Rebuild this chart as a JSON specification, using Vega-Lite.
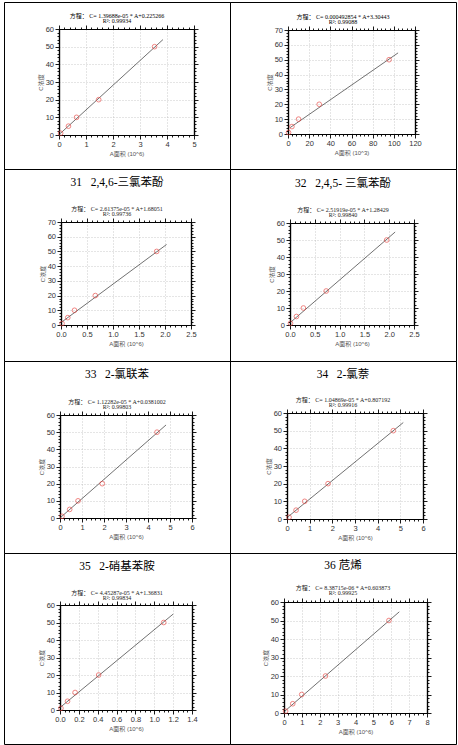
{
  "$schema": "https://vega.github.io/schema/vega-lite/v6.json",
  "background": "white",
  "padding": {"left": 3, "top": 1, "right": 3, "bottom": 2},
  "datasets": {
    "pts": [
      {"p": "A", "A": 0.06, "C": 1}, {"p": "A", "A": 0.35, "C": 5}, {"p": "A", "A": 0.65, "C": 10}, {"p": "A", "A": 1.47, "C": 20}, {"p": "A", "A": 3.54, "C": 50},
      {"p": "B", "A": 0.5, "C": 1}, {"p": "B", "A": 3.7, "C": 5}, {"p": "B", "A": 10, "C": 10}, {"p": "B", "A": 29.5, "C": 20}, {"p": "B", "A": 95.5, "C": 50},
      {"p": "C", "A": 0.02, "C": 1}, {"p": "C", "A": 0.13, "C": 5}, {"p": "C", "A": 0.26, "C": 10}, {"p": "C", "A": 0.66, "C": 20}, {"p": "C", "A": 1.84, "C": 50},
      {"p": "D", "A": 0.01, "C": 1}, {"p": "D", "A": 0.13, "C": 5}, {"p": "D", "A": 0.27, "C": 10}, {"p": "D", "A": 0.73, "C": 20}, {"p": "D", "A": 1.95, "C": 50},
      {"p": "E", "A": 0.09, "C": 1}, {"p": "E", "A": 0.44, "C": 5}, {"p": "E", "A": 0.82, "C": 10}, {"p": "E", "A": 1.92, "C": 20}, {"p": "E", "A": 4.41, "C": 50},
      {"p": "F", "A": 0.09, "C": 1}, {"p": "F", "A": 0.4, "C": 5}, {"p": "F", "A": 0.78, "C": 10}, {"p": "F", "A": 1.81, "C": 20}, {"p": "F", "A": 4.69, "C": 50},
      {"p": "G", "A": 0.01, "C": 1}, {"p": "G", "A": 0.08, "C": 5}, {"p": "G", "A": 0.16, "C": 10}, {"p": "G", "A": 0.41, "C": 20}, {"p": "G", "A": 1.1, "C": 50},
      {"p": "H", "A": 0.09, "C": 1}, {"p": "H", "A": 0.49, "C": 5}, {"p": "H", "A": 0.99, "C": 10}, {"p": "H", "A": 2.32, "C": 20}, {"p": "H", "A": 5.87, "C": 50}
    ],
    "fit": [
      {"p": "A", "A": 0.05, "C": 0.9}, {"p": "A", "A": 3.85, "C": 54.0},
      {"p": "B", "A": 2, "C": 4.3}, {"p": "B", "A": 104, "C": 54.6},
      {"p": "C", "A": 0.01, "C": 1.9}, {"p": "C", "A": 2.03, "C": 54.7},
      {"p": "D", "A": 0.0, "C": 1.3}, {"p": "D", "A": 2.12, "C": 54.7},
      {"p": "E", "A": 0.05, "C": 0.6}, {"p": "E", "A": 4.82, "C": 54.2},
      {"p": "F", "A": 0.05, "C": 1.3}, {"p": "F", "A": 5.13, "C": 54.6},
      {"p": "G", "A": 0.0, "C": 1.4}, {"p": "G", "A": 1.2, "C": 54.8},
      {"p": "H", "A": 0.0, "C": 0.6}, {"p": "H", "A": 6.45, "C": 54.7}
    ]
  },
  "spacing": 0,
  "bounds": "flush",
  "align": "each",
  "columns": 2,
  "concat": [
    {
      "width": 226, "height": 167,
      "title": {"text": ["方程： C= 1.39688e-05 * A+0.225266", "R²: 0.99934"], "fontSize": 6, "lineHeight": 5.5, "offset": -22},
      "resolve": {"axis": {"x": "independent", "y": "independent"}},
      "layer": [
        {
          "data": {"name": "fit"}, "transform": [{"filter": "datum.p === 'A'"}],
          "mark": {"type": "line", "color": "#333", "strokeWidth": 0.7},
          "encoding": {
            "x": {"field": "A", "type": "quantitative", "scale": {"domain": [0, 5], "range": [55, 190], "nice": false},
              "axis": {"orient": "top", "offset": -27, "labels": false, "title": null, "values": [0,0.2,0.4,0.6,0.8,1,1.2,1.4,1.6,1.8,2,2.2,2.4,2.6,2.8,3,3.2,3.4,3.6,3.8,4,4.2,4.4,4.6,4.8,5],
                "tickSize": {"condition": {"test": "abs(datum.value/1-round(datum.value/1))<0.01", "value": 4}, "value": 2},
                "grid": true, "gridOpacity": {"condition": {"test": "abs(datum.value/1-round(datum.value/1))<0.01", "value": 1}, "value": 0},
                "gridColor": {"condition": {"test": "datum.value<=0 || datum.value>=5", "value": "#000"}, "value": "#aaa"},
                "gridDash": {"condition": {"test": "datum.value<=0 || datum.value>=5", "value": []}, "value": [1, 2]},
                "gridWidth": {"condition": {"test": "datum.value<=0 || datum.value>=5", "value": 1.2}, "value": 0.6}}},
            "y": {"field": "C", "type": "quantitative", "scale": {"domain": [0, 60], "range": [133, 27], "nice": false},
              "axis": {"orient": "right", "offset": -36, "labels": false, "title": null, "values": [0,2,4,6,8,10,12,14,16,18,20,22,24,26,28,30,32,34,36,38,40,42,44,46,48,50,52,54,56,58,60],
                "tickSize": {"condition": {"test": "abs(datum.value/10-round(datum.value/10))<0.01", "value": 4}, "value": 2}}}
          }
        },
        {
          "data": {"name": "pts"}, "transform": [{"filter": "datum.p === 'A'"}],
          "mark": {"type": "point", "shape": "circle", "filled": false, "color": "#e8413c", "size": 22, "strokeWidth": 0.9},
          "encoding": {
            "x": {"field": "A", "type": "quantitative",
              "axis": {"orient": "bottom", "offset": -34, "title": "A面积 (10^6)", "format": ".0f", "values": [0,0.2,0.4,0.6,0.8,1,1.2,1.4,1.6,1.8,2,2.2,2.4,2.6,2.8,3,3.2,3.4,3.6,3.8,4,4.2,4.4,4.6,4.8,5],
                "labelExpr": "abs(datum.value/1-round(datum.value/1))<0.01 ? datum.label : ''",
                "tickSize": {"condition": {"test": "abs(datum.value/1-round(datum.value/1))<0.01", "value": 4}, "value": 2}}},
            "y": {"field": "C", "type": "quantitative",
              "axis": {"orient": "left", "offset": -55, "title": "C浓度", "format": ".0f", "values": [0,2,4,6,8,10,12,14,16,18,20,22,24,26,28,30,32,34,36,38,40,42,44,46,48,50,52,54,56,58,60],
                "labelExpr": "abs(datum.value/10-round(datum.value/10))<0.01 ? datum.label : ''",
                "tickSize": {"condition": {"test": "abs(datum.value/10-round(datum.value/10))<0.01", "value": 4}, "value": 2},
                "grid": true, "gridOpacity": {"condition": {"test": "abs(datum.value/10-round(datum.value/10))<0.01", "value": 1}, "value": 0},
                "gridColor": {"condition": {"test": "datum.value<=0 || datum.value>=60", "value": "#000"}, "value": "#aaa"},
                "gridDash": {"condition": {"test": "datum.value<=0 || datum.value>=60", "value": []}, "value": [1, 2]},
                "gridWidth": {"condition": {"test": "datum.value<=0 || datum.value>=60", "value": 1.2}, "value": 0.6}}}
          }
        }
      ]
    },
    {
      "width": 226, "height": 167,
      "title": {"text": ["方程： C= 0.000492854 * A+3.30443", "R²: 0.99088"], "fontSize": 6, "lineHeight": 5.5, "offset": -23},
      "resolve": {"axis": {"x": "independent", "y": "independent"}},
      "layer": [
        {
          "data": {"name": "fit"}, "transform": [{"filter": "datum.p === 'B'"}],
          "mark": {"type": "line", "color": "#333", "strokeWidth": 0.7},
          "encoding": {
            "x": {"field": "A", "type": "quantitative", "scale": {"domain": [0, 120], "range": [58, 185], "nice": false},
              "axis": {"orient": "top", "offset": -28, "labels": false, "title": null, "values": [0,4,8,12,16,20,24,28,32,36,40,44,48,52,56,60,64,68,72,76,80,84,88,92,96,100,104,108,112,116,120],
                "tickSize": {"condition": {"test": "abs(datum.value/20-round(datum.value/20))<0.01", "value": 4}, "value": 2},
                "grid": true, "gridOpacity": {"condition": {"test": "abs(datum.value/20-round(datum.value/20))<0.01", "value": 1}, "value": 0},
                "gridColor": {"condition": {"test": "datum.value<=0 || datum.value>=120", "value": "#000"}, "value": "#aaa"},
                "gridDash": {"condition": {"test": "datum.value<=0 || datum.value>=120", "value": []}, "value": [1, 2]},
                "gridWidth": {"condition": {"test": "datum.value<=0 || datum.value>=120", "value": 1.2}, "value": 0.6}}},
            "y": {"field": "C", "type": "quantitative", "scale": {"domain": [0, 70], "range": [132, 28], "nice": false},
              "axis": {"orient": "right", "offset": -41, "labels": false, "title": null, "values": [0,2,4,6,8,10,12,14,16,18,20,22,24,26,28,30,32,34,36,38,40,42,44,46,48,50,52,54,56,58,60,62,64,66,68,70],
                "tickSize": {"condition": {"test": "abs(datum.value/10-round(datum.value/10))<0.01", "value": 4}, "value": 2}}}
          }
        },
        {
          "data": {"name": "pts"}, "transform": [{"filter": "datum.p === 'B'"}],
          "mark": {"type": "point", "shape": "circle", "filled": false, "color": "#e8413c", "size": 22, "strokeWidth": 0.9},
          "encoding": {
            "x": {"field": "A", "type": "quantitative",
              "axis": {"orient": "bottom", "offset": -35, "title": "A面积 (10^3)", "format": ".0f", "values": [0,4,8,12,16,20,24,28,32,36,40,44,48,52,56,60,64,68,72,76,80,84,88,92,96,100,104,108,112,116,120],
                "labelExpr": "abs(datum.value/20-round(datum.value/20))<0.01 ? datum.label : ''",
                "tickSize": {"condition": {"test": "abs(datum.value/20-round(datum.value/20))<0.01", "value": 4}, "value": 2}}},
            "y": {"field": "C", "type": "quantitative",
              "axis": {"orient": "left", "offset": -58, "title": "C浓度", "format": ".0f", "values": [0,2,4,6,8,10,12,14,16,18,20,22,24,26,28,30,32,34,36,38,40,42,44,46,48,50,52,54,56,58,60,62,64,66,68,70],
                "labelExpr": "abs(datum.value/10-round(datum.value/10))<0.01 ? datum.label : ''",
                "tickSize": {"condition": {"test": "abs(datum.value/10-round(datum.value/10))<0.01", "value": 4}, "value": 2},
                "grid": true, "gridOpacity": {"condition": {"test": "abs(datum.value/10-round(datum.value/10))<0.01", "value": 1}, "value": 0},
                "gridColor": {"condition": {"test": "datum.value<=0 || datum.value>=70", "value": "#000"}, "value": "#aaa"},
                "gridDash": {"condition": {"test": "datum.value<=0 || datum.value>=70", "value": []}, "value": [1, 2]},
                "gridWidth": {"condition": {"test": "datum.value<=0 || datum.value>=70", "value": 1.2}, "value": 0.6}}}
          }
        }
      ]
    },
    {
      "width": 226, "height": 192,
      "title": {"text": "31\u00a0\u00a0\u00a02,4,6-三氯苯酚", "subtitle": ["方程： C= 2.61375e-05 * A+1.68051", "R²: 0.99736"], "offset": -48, "subtitlePadding": 17},
      "resolve": {"axis": {"x": "independent", "y": "independent"}},
      "layer": [
        {
          "data": {"name": "fit"}, "transform": [{"filter": "datum.p === 'C'"}],
          "mark": {"type": "line", "color": "#333", "strokeWidth": 0.7},
          "encoding": {
            "x": {"field": "A", "type": "quantitative", "scale": {"domain": [0, 2.5], "range": [57, 187], "nice": false},
              "axis": {"orient": "top", "offset": -53, "labels": false, "title": null, "values": [0,0.1,0.2,0.3,0.4,0.5,0.6,0.7,0.8,0.9,1,1.1,1.2,1.3,1.4,1.5,1.6,1.7,1.8,1.9,2,2.1,2.2,2.3,2.4,2.5],
                "tickSize": {"condition": {"test": "abs(datum.value/0.5-round(datum.value/0.5))<0.01", "value": 4}, "value": 2},
                "grid": true, "gridOpacity": {"condition": {"test": "abs(datum.value/0.5-round(datum.value/0.5))<0.01", "value": 1}, "value": 0},
                "gridColor": {"condition": {"test": "datum.value<=0 || datum.value>=2.5", "value": "#000"}, "value": "#aaa"},
                "gridDash": {"condition": {"test": "datum.value<=0 || datum.value>=2.5", "value": []}, "value": [1, 2]},
                "gridWidth": {"condition": {"test": "datum.value<=0 || datum.value>=2.5", "value": 1.2}, "value": 0.6}}},
            "y": {"field": "C", "type": "quantitative", "scale": {"domain": [0, 70], "range": [156, 53], "nice": false},
              "axis": {"orient": "right", "offset": -39, "labels": false, "title": null, "values": [0,2,4,6,8,10,12,14,16,18,20,22,24,26,28,30,32,34,36,38,40,42,44,46,48,50,52,54,56,58,60,62,64,66,68,70],
                "tickSize": {"condition": {"test": "abs(datum.value/10-round(datum.value/10))<0.01", "value": 4}, "value": 2}}}
          }
        },
        {
          "data": {"name": "pts"}, "transform": [{"filter": "datum.p === 'C'"}],
          "mark": {"type": "point", "shape": "circle", "filled": false, "color": "#e8413c", "size": 22, "strokeWidth": 0.9},
          "encoding": {
            "x": {"field": "A", "type": "quantitative",
              "axis": {"orient": "bottom", "offset": -36, "title": "A面积 (10^6)", "format": ".1f", "values": [0,0.1,0.2,0.3,0.4,0.5,0.6,0.7,0.8,0.9,1,1.1,1.2,1.3,1.4,1.5,1.6,1.7,1.8,1.9,2,2.1,2.2,2.3,2.4,2.5],
                "labelExpr": "abs(datum.value/0.5-round(datum.value/0.5))<0.01 ? datum.label : ''",
                "tickSize": {"condition": {"test": "abs(datum.value/0.5-round(datum.value/0.5))<0.01", "value": 4}, "value": 2}}},
            "y": {"field": "C", "type": "quantitative",
              "axis": {"orient": "left", "offset": -57, "title": "C浓度", "format": ".0f", "values": [0,2,4,6,8,10,12,14,16,18,20,22,24,26,28,30,32,34,36,38,40,42,44,46,48,50,52,54,56,58,60,62,64,66,68,70],
                "labelExpr": "abs(datum.value/10-round(datum.value/10))<0.01 ? datum.label : ''",
                "tickSize": {"condition": {"test": "abs(datum.value/10-round(datum.value/10))<0.01", "value": 4}, "value": 2},
                "grid": true, "gridOpacity": {"condition": {"test": "abs(datum.value/10-round(datum.value/10))<0.01", "value": 1}, "value": 0},
                "gridColor": {"condition": {"test": "datum.value<=0 || datum.value>=70", "value": "#000"}, "value": "#aaa"},
                "gridDash": {"condition": {"test": "datum.value<=0 || datum.value>=70", "value": []}, "value": [1, 2]},
                "gridWidth": {"condition": {"test": "datum.value<=0 || datum.value>=70", "value": 1.2}, "value": 0.6}}}
          }
        }
      ]
    },
    {
      "width": 226, "height": 192,
      "title": {"text": "32\u00a0\u00a0\u00a02,4,5- 三氯苯酚", "subtitle": ["方程： C= 2.51919e-05 * A+1.28429", "R²: 0.99840"], "offset": -49, "subtitlePadding": 17},
      "resolve": {"axis": {"x": "independent", "y": "independent"}},
      "layer": [
        {
          "data": {"name": "fit"}, "transform": [{"filter": "datum.p === 'D'"}],
          "mark": {"type": "line", "color": "#333", "strokeWidth": 0.7},
          "encoding": {
            "x": {"field": "A", "type": "quantitative", "scale": {"domain": [0, 2.5], "range": [60, 184], "nice": false},
              "axis": {"orient": "top", "offset": -54, "labels": false, "title": null, "values": [0,0.1,0.2,0.3,0.4,0.5,0.6,0.7,0.8,0.9,1,1.1,1.2,1.3,1.4,1.5,1.6,1.7,1.8,1.9,2,2.1,2.2,2.3,2.4,2.5],
                "tickSize": {"condition": {"test": "abs(datum.value/0.5-round(datum.value/0.5))<0.01", "value": 4}, "value": 2},
                "grid": true, "gridOpacity": {"condition": {"test": "abs(datum.value/0.5-round(datum.value/0.5))<0.01", "value": 1}, "value": 0},
                "gridColor": {"condition": {"test": "datum.value<=0 || datum.value>=2.5", "value": "#000"}, "value": "#aaa"},
                "gridDash": {"condition": {"test": "datum.value<=0 || datum.value>=2.5", "value": []}, "value": [1, 2]},
                "gridWidth": {"condition": {"test": "datum.value<=0 || datum.value>=2.5", "value": 1.2}, "value": 0.6}}},
            "y": {"field": "C", "type": "quantitative", "scale": {"domain": [0, 60], "range": [156, 54], "nice": false},
              "axis": {"orient": "right", "offset": -42, "labels": false, "title": null, "values": [0,2,4,6,8,10,12,14,16,18,20,22,24,26,28,30,32,34,36,38,40,42,44,46,48,50,52,54,56,58,60],
                "tickSize": {"condition": {"test": "abs(datum.value/10-round(datum.value/10))<0.01", "value": 4}, "value": 2}}}
          }
        },
        {
          "data": {"name": "pts"}, "transform": [{"filter": "datum.p === 'D'"}],
          "mark": {"type": "point", "shape": "circle", "filled": false, "color": "#e8413c", "size": 22, "strokeWidth": 0.9},
          "encoding": {
            "x": {"field": "A", "type": "quantitative",
              "axis": {"orient": "bottom", "offset": -36, "title": "A面积 (10^6)", "format": ".1f", "values": [0,0.1,0.2,0.3,0.4,0.5,0.6,0.7,0.8,0.9,1,1.1,1.2,1.3,1.4,1.5,1.6,1.7,1.8,1.9,2,2.1,2.2,2.3,2.4,2.5],
                "labelExpr": "abs(datum.value/0.5-round(datum.value/0.5))<0.01 ? datum.label : ''",
                "tickSize": {"condition": {"test": "abs(datum.value/0.5-round(datum.value/0.5))<0.01", "value": 4}, "value": 2}}},
            "y": {"field": "C", "type": "quantitative",
              "axis": {"orient": "left", "offset": -60, "title": "C浓度", "format": ".0f", "values": [0,2,4,6,8,10,12,14,16,18,20,22,24,26,28,30,32,34,36,38,40,42,44,46,48,50,52,54,56,58,60],
                "labelExpr": "abs(datum.value/10-round(datum.value/10))<0.01 ? datum.label : ''",
                "tickSize": {"condition": {"test": "abs(datum.value/10-round(datum.value/10))<0.01", "value": 4}, "value": 2},
                "grid": true, "gridOpacity": {"condition": {"test": "abs(datum.value/10-round(datum.value/10))<0.01", "value": 1}, "value": 0},
                "gridColor": {"condition": {"test": "datum.value<=0 || datum.value>=60", "value": "#000"}, "value": "#aaa"},
                "gridDash": {"condition": {"test": "datum.value<=0 || datum.value>=60", "value": []}, "value": [1, 2]},
                "gridWidth": {"condition": {"test": "datum.value<=0 || datum.value>=60", "value": 1.2}, "value": 0.6}}}
          }
        }
      ]
    },
    {
      "width": 226, "height": 192,
      "title": {"text": "33\u00a0\u00a0\u00a02-氯联苯", "subtitle": ["方程： C= 1.12282e-05 * A+0.0381002", "R²: 0.99803"], "offset": -49, "subtitlePadding": 18},
      "resolve": {"axis": {"x": "independent", "y": "independent"}},
      "layer": [
        {
          "data": {"name": "fit"}, "transform": [{"filter": "datum.p === 'E'"}],
          "mark": {"type": "line", "color": "#333", "strokeWidth": 0.7},
          "encoding": {
            "x": {"field": "A", "type": "quantitative", "scale": {"domain": [0, 6], "range": [56, 188], "nice": false},
              "axis": {"orient": "top", "offset": -54, "labels": false, "title": null, "values": [0,0.2,0.4,0.6,0.8,1,1.2,1.4,1.6,1.8,2,2.2,2.4,2.6,2.8,3,3.2,3.4,3.6,3.8,4,4.2,4.4,4.6,4.8,5,5.2,5.4,5.6,5.8,6],
                "tickSize": {"condition": {"test": "abs(datum.value/1-round(datum.value/1))<0.01", "value": 4}, "value": 2},
                "grid": true, "gridOpacity": {"condition": {"test": "abs(datum.value/1-round(datum.value/1))<0.01", "value": 1}, "value": 0},
                "gridColor": {"condition": {"test": "datum.value<=0 || datum.value>=6", "value": "#000"}, "value": "#aaa"},
                "gridDash": {"condition": {"test": "datum.value<=0 || datum.value>=6", "value": []}, "value": [1, 2]},
                "gridWidth": {"condition": {"test": "datum.value<=0 || datum.value>=6", "value": 1.2}, "value": 0.6}}},
            "y": {"field": "C", "type": "quantitative", "scale": {"domain": [0, 60], "range": [157, 54], "nice": false},
              "axis": {"orient": "right", "offset": -38, "labels": false, "title": null, "values": [0,2,4,6,8,10,12,14,16,18,20,22,24,26,28,30,32,34,36,38,40,42,44,46,48,50,52,54,56,58,60],
                "tickSize": {"condition": {"test": "abs(datum.value/10-round(datum.value/10))<0.01", "value": 4}, "value": 2}}}
          }
        },
        {
          "data": {"name": "pts"}, "transform": [{"filter": "datum.p === 'E'"}],
          "mark": {"type": "point", "shape": "circle", "filled": false, "color": "#e8413c", "size": 22, "strokeWidth": 0.9},
          "encoding": {
            "x": {"field": "A", "type": "quantitative",
              "axis": {"orient": "bottom", "offset": -35, "title": "A面积 (10^6)", "format": ".0f", "values": [0,0.2,0.4,0.6,0.8,1,1.2,1.4,1.6,1.8,2,2.2,2.4,2.6,2.8,3,3.2,3.4,3.6,3.8,4,4.2,4.4,4.6,4.8,5,5.2,5.4,5.6,5.8,6],
                "labelExpr": "abs(datum.value/1-round(datum.value/1))<0.01 ? datum.label : ''",
                "tickSize": {"condition": {"test": "abs(datum.value/1-round(datum.value/1))<0.01", "value": 4}, "value": 2}}},
            "y": {"field": "C", "type": "quantitative",
              "axis": {"orient": "left", "offset": -56, "title": "C浓度", "format": ".0f", "values": [0,2,4,6,8,10,12,14,16,18,20,22,24,26,28,30,32,34,36,38,40,42,44,46,48,50,52,54,56,58,60],
                "labelExpr": "abs(datum.value/10-round(datum.value/10))<0.01 ? datum.label : ''",
                "tickSize": {"condition": {"test": "abs(datum.value/10-round(datum.value/10))<0.01", "value": 4}, "value": 2},
                "grid": true, "gridOpacity": {"condition": {"test": "abs(datum.value/10-round(datum.value/10))<0.01", "value": 1}, "value": 0},
                "gridColor": {"condition": {"test": "datum.value<=0 || datum.value>=60", "value": "#000"}, "value": "#aaa"},
                "gridDash": {"condition": {"test": "datum.value<=0 || datum.value>=60", "value": []}, "value": [1, 2]},
                "gridWidth": {"condition": {"test": "datum.value<=0 || datum.value>=60", "value": 1.2}, "value": 0.6}}}
          }
        }
      ]
    },
    {
      "width": 226, "height": 192,
      "title": {"text": "34\u00a0\u00a0\u00a02-氯萘", "subtitle": ["方程： C= 1.04869e-05 * A+0.807192", "R²: 0.99916"], "offset": -47, "subtitlePadding": 16},
      "resolve": {"axis": {"x": "independent", "y": "independent"}},
      "layer": [
        {
          "data": {"name": "fit"}, "transform": [{"filter": "datum.p === 'F'"}],
          "mark": {"type": "line", "color": "#333", "strokeWidth": 0.7},
          "encoding": {
            "x": {"field": "A", "type": "quantitative", "scale": {"domain": [0, 6], "range": [57, 193], "nice": false},
              "axis": {"orient": "top", "offset": -52, "labels": false, "title": null, "values": [0,0.2,0.4,0.6,0.8,1,1.2,1.4,1.6,1.8,2,2.2,2.4,2.6,2.8,3,3.2,3.4,3.6,3.8,4,4.2,4.4,4.6,4.8,5,5.2,5.4,5.6,5.8,6],
                "tickSize": {"condition": {"test": "abs(datum.value/1-round(datum.value/1))<0.01", "value": 4}, "value": 2},
                "grid": true, "gridOpacity": {"condition": {"test": "abs(datum.value/1-round(datum.value/1))<0.01", "value": 1}, "value": 0},
                "gridColor": {"condition": {"test": "datum.value<=0 || datum.value>=6", "value": "#000"}, "value": "#aaa"},
                "gridDash": {"condition": {"test": "datum.value<=0 || datum.value>=6", "value": []}, "value": [1, 2]},
                "gridWidth": {"condition": {"test": "datum.value<=0 || datum.value>=6", "value": 1.2}, "value": 0.6}}},
            "y": {"field": "C", "type": "quantitative", "scale": {"domain": [0, 60], "range": [158, 52], "nice": false},
              "axis": {"orient": "right", "offset": -33, "labels": false, "title": null, "values": [0,2,4,6,8,10,12,14,16,18,20,22,24,26,28,30,32,34,36,38,40,42,44,46,48,50,52,54,56,58,60],
                "tickSize": {"condition": {"test": "abs(datum.value/10-round(datum.value/10))<0.01", "value": 4}, "value": 2}}}
          }
        },
        {
          "data": {"name": "pts"}, "transform": [{"filter": "datum.p === 'F'"}],
          "mark": {"type": "point", "shape": "circle", "filled": false, "color": "#e8413c", "size": 22, "strokeWidth": 0.9},
          "encoding": {
            "x": {"field": "A", "type": "quantitative",
              "axis": {"orient": "bottom", "offset": -34, "title": "A面积 (10^6)", "format": ".0f", "values": [0,0.2,0.4,0.6,0.8,1,1.2,1.4,1.6,1.8,2,2.2,2.4,2.6,2.8,3,3.2,3.4,3.6,3.8,4,4.2,4.4,4.6,4.8,5,5.2,5.4,5.6,5.8,6],
                "labelExpr": "abs(datum.value/1-round(datum.value/1))<0.01 ? datum.label : ''",
                "tickSize": {"condition": {"test": "abs(datum.value/1-round(datum.value/1))<0.01", "value": 4}, "value": 2}}},
            "y": {"field": "C", "type": "quantitative",
              "axis": {"orient": "left", "offset": -57, "title": "C浓度", "format": ".0f", "values": [0,2,4,6,8,10,12,14,16,18,20,22,24,26,28,30,32,34,36,38,40,42,44,46,48,50,52,54,56,58,60],
                "labelExpr": "abs(datum.value/10-round(datum.value/10))<0.01 ? datum.label : ''",
                "tickSize": {"condition": {"test": "abs(datum.value/10-round(datum.value/10))<0.01", "value": 4}, "value": 2},
                "grid": true, "gridOpacity": {"condition": {"test": "abs(datum.value/10-round(datum.value/10))<0.01", "value": 1}, "value": 0},
                "gridColor": {"condition": {"test": "datum.value<=0 || datum.value>=60", "value": "#000"}, "value": "#aaa"},
                "gridDash": {"condition": {"test": "datum.value<=0 || datum.value>=60", "value": []}, "value": [1, 2]},
                "gridWidth": {"condition": {"test": "datum.value<=0 || datum.value>=60", "value": 1.2}, "value": 0.6}}}
          }
        }
      ]
    },
    {
      "width": 226, "height": 191,
      "title": {"text": "35\u00a0\u00a0\u00a02-硝基苯胺", "subtitle": ["方程： C= 4.45287e-05 * A+1.36831", "R²: 0.99834"], "offset": -48, "subtitlePadding": 17},
      "resolve": {"axis": {"x": "independent", "y": "independent"}},
      "layer": [
        {
          "data": {"name": "fit"}, "transform": [{"filter": "datum.p === 'G'"}],
          "mark": {"type": "line", "color": "#333", "strokeWidth": 0.7},
          "encoding": {
            "x": {"field": "A", "type": "quantitative", "scale": {"domain": [0, 1.4], "range": [56, 188], "nice": false},
              "axis": {"orient": "top", "offset": -52, "labels": false, "title": null, "values": [0,0.05,0.1,0.15,0.2,0.25,0.3,0.35,0.4,0.45,0.5,0.55,0.6,0.65,0.7,0.75,0.8,0.85,0.9,0.95,1,1.05,1.1,1.15,1.2,1.25,1.3,1.35,1.4],
                "tickSize": {"condition": {"test": "abs(datum.value/0.2-round(datum.value/0.2))<0.01", "value": 4}, "value": 2},
                "grid": true, "gridOpacity": {"condition": {"test": "abs(datum.value/0.2-round(datum.value/0.2))<0.01", "value": 1}, "value": 0},
                "gridColor": {"condition": {"test": "datum.value<=0 || datum.value>=1.4", "value": "#000"}, "value": "#aaa"},
                "gridDash": {"condition": {"test": "datum.value<=0 || datum.value>=1.4", "value": []}, "value": [1, 2]},
                "gridWidth": {"condition": {"test": "datum.value<=0 || datum.value>=1.4", "value": 1.2}, "value": 0.6}}},
            "y": {"field": "C", "type": "quantitative", "scale": {"domain": [0, 60], "range": [157, 52], "nice": false},
              "axis": {"orient": "right", "offset": -38, "labels": false, "title": null, "values": [0,2,4,6,8,10,12,14,16,18,20,22,24,26,28,30,32,34,36,38,40,42,44,46,48,50,52,54,56,58,60],
                "tickSize": {"condition": {"test": "abs(datum.value/10-round(datum.value/10))<0.01", "value": 4}, "value": 2}}}
          }
        },
        {
          "data": {"name": "pts"}, "transform": [{"filter": "datum.p === 'G'"}],
          "mark": {"type": "point", "shape": "circle", "filled": false, "color": "#e8413c", "size": 22, "strokeWidth": 0.9},
          "encoding": {
            "x": {"field": "A", "type": "quantitative",
              "axis": {"orient": "bottom", "offset": -34, "title": "A面积 (10^6)", "format": ".1f", "values": [0,0.05,0.1,0.15,0.2,0.25,0.3,0.35,0.4,0.45,0.5,0.55,0.6,0.65,0.7,0.75,0.8,0.85,0.9,0.95,1,1.05,1.1,1.15,1.2,1.25,1.3,1.35,1.4],
                "labelExpr": "abs(datum.value/0.2-round(datum.value/0.2))<0.01 ? datum.label : ''",
                "tickSize": {"condition": {"test": "abs(datum.value/0.2-round(datum.value/0.2))<0.01", "value": 4}, "value": 2}}},
            "y": {"field": "C", "type": "quantitative",
              "axis": {"orient": "left", "offset": -56, "title": "C浓度", "format": ".0f", "values": [0,2,4,6,8,10,12,14,16,18,20,22,24,26,28,30,32,34,36,38,40,42,44,46,48,50,52,54,56,58,60],
                "labelExpr": "abs(datum.value/10-round(datum.value/10))<0.01 ? datum.label : ''",
                "tickSize": {"condition": {"test": "abs(datum.value/10-round(datum.value/10))<0.01", "value": 4}, "value": 2},
                "grid": true, "gridOpacity": {"condition": {"test": "abs(datum.value/10-round(datum.value/10))<0.01", "value": 1}, "value": 0},
                "gridColor": {"condition": {"test": "datum.value<=0 || datum.value>=60", "value": "#000"}, "value": "#aaa"},
                "gridDash": {"condition": {"test": "datum.value<=0 || datum.value>=60", "value": []}, "value": [1, 2]},
                "gridWidth": {"condition": {"test": "datum.value<=0 || datum.value>=60", "value": 1.2}, "value": 0.6}}}
          }
        }
      ]
    },
    {
      "width": 226, "height": 191,
      "title": {"text": "36 苊烯", "subtitle": ["方程： C= 8.38715e-06 * A+0.603873", "R²: 0.99925"], "offset": -43, "subtitlePadding": 13},
      "resolve": {"axis": {"x": "independent", "y": "independent"}},
      "layer": [
        {
          "data": {"name": "fit"}, "transform": [{"filter": "datum.p === 'H'"}],
          "mark": {"type": "line", "color": "#333", "strokeWidth": 0.7},
          "encoding": {
            "x": {"field": "A", "type": "quantitative", "scale": {"domain": [0, 8], "range": [54, 197], "nice": false},
              "axis": {"orient": "top", "offset": -49, "labels": false, "title": null, "values": [0,0.25,0.5,0.75,1,1.25,1.5,1.75,2,2.25,2.5,2.75,3,3.25,3.5,3.75,4,4.25,4.5,4.75,5,5.25,5.5,5.75,6,6.25,6.5,6.75,7,7.25,7.5,7.75,8],
                "tickSize": {"condition": {"test": "abs(datum.value/1-round(datum.value/1))<0.01", "value": 4}, "value": 2},
                "grid": true, "gridOpacity": {"condition": {"test": "abs(datum.value/1-round(datum.value/1))<0.01", "value": 1}, "value": 0},
                "gridColor": {"condition": {"test": "datum.value<=0 || datum.value>=8", "value": "#000"}, "value": "#aaa"},
                "gridDash": {"condition": {"test": "datum.value<=0 || datum.value>=8", "value": []}, "value": [1, 2]},
                "gridWidth": {"condition": {"test": "datum.value<=0 || datum.value>=8", "value": 1.2}, "value": 0.6}}},
            "y": {"field": "C", "type": "quantitative", "scale": {"domain": [0, 60], "range": [160, 49], "nice": false},
              "axis": {"orient": "right", "offset": -29, "labels": false, "title": null, "values": [0,2,4,6,8,10,12,14,16,18,20,22,24,26,28,30,32,34,36,38,40,42,44,46,48,50,52,54,56,58,60],
                "tickSize": {"condition": {"test": "abs(datum.value/10-round(datum.value/10))<0.01", "value": 4}, "value": 2}}}
          }
        },
        {
          "data": {"name": "pts"}, "transform": [{"filter": "datum.p === 'H'"}],
          "mark": {"type": "point", "shape": "circle", "filled": false, "color": "#e8413c", "size": 22, "strokeWidth": 0.9},
          "encoding": {
            "x": {"field": "A", "type": "quantitative",
              "axis": {"orient": "bottom", "offset": -31, "title": "A面积 (10^6)", "format": ".0f", "values": [0,0.25,0.5,0.75,1,1.25,1.5,1.75,2,2.25,2.5,2.75,3,3.25,3.5,3.75,4,4.25,4.5,4.75,5,5.25,5.5,5.75,6,6.25,6.5,6.75,7,7.25,7.5,7.75,8],
                "labelExpr": "abs(datum.value/1-round(datum.value/1))<0.01 ? datum.label : ''",
                "tickSize": {"condition": {"test": "abs(datum.value/1-round(datum.value/1))<0.01", "value": 4}, "value": 2}}},
            "y": {"field": "C", "type": "quantitative",
              "axis": {"orient": "left", "offset": -54, "title": "C浓度", "format": ".0f", "values": [0,2,4,6,8,10,12,14,16,18,20,22,24,26,28,30,32,34,36,38,40,42,44,46,48,50,52,54,56,58,60],
                "labelExpr": "abs(datum.value/10-round(datum.value/10))<0.01 ? datum.label : ''",
                "tickSize": {"condition": {"test": "abs(datum.value/10-round(datum.value/10))<0.01", "value": 4}, "value": 2},
                "grid": true, "gridOpacity": {"condition": {"test": "abs(datum.value/10-round(datum.value/10))<0.01", "value": 1}, "value": 0},
                "gridColor": {"condition": {"test": "datum.value<=0 || datum.value>=60", "value": "#000"}, "value": "#aaa"},
                "gridDash": {"condition": {"test": "datum.value<=0 || datum.value>=60", "value": []}, "value": [1, 2]},
                "gridWidth": {"condition": {"test": "datum.value<=0 || datum.value>=60", "value": 1.2}, "value": 0.6}}}
          }
        }
      ]
    }
  ],
  "config": {
    "view": {"stroke": "#000", "strokeWidth": 1},
    "axis": {
      "domain": true, "ticks": true,
      "domainColor": "#000", "domainWidth": 1.2, "tickColor": "#000", "tickWidth": 0.9,
      "labelFont": "Liberation Sans", "labelFontSize": 7.5, "labelColor": "#333", "labelPadding": 1.5,
      "labelOverlap": false, "labelFlush": false, "labelBound": false,
      "titleFont": "Liberation Sans, Noto Sans CJK SC", "titleFontSize": 6, "titleFontWeight": "normal", "titleColor": "#555", "titlePadding": 2,
      "grid": false, "gridColor": "#aaa", "gridDash": [1, 2], "gridWidth": 0.6
    },
    "title": {
      "font": "Liberation Serif, Noto Sans CJK SC", "fontSize": 11.5, "fontWeight": "normal", "color": "#000",
      "anchor": "middle", "frame": "group",
      "subtitleFont": "Liberation Serif, Noto Sans CJK SC", "subtitleFontSize": 6, "subtitleColor": "#222", "subtitleLineHeight": 5.5
    }
  }
}
